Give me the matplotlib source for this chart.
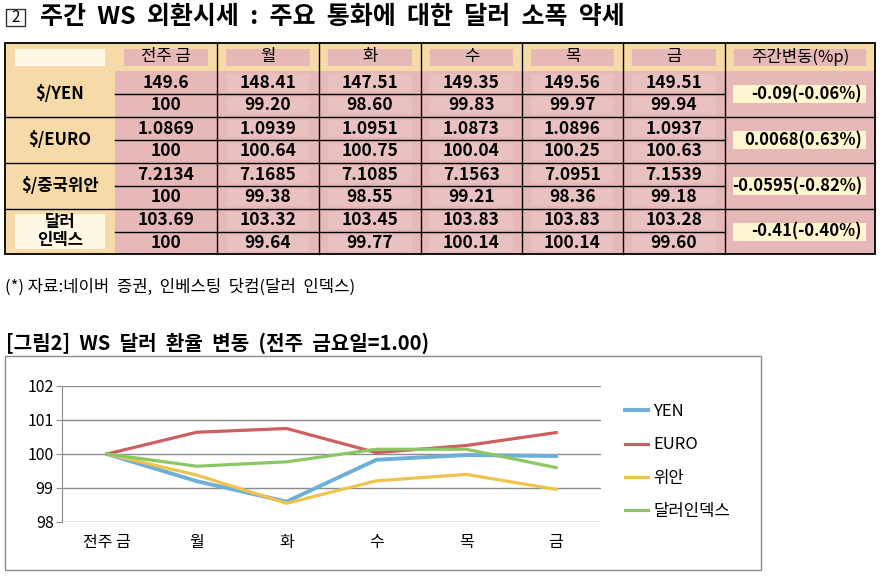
import numpy as np
import matplotlib.pyplot as plt
from matplotlib.patches import Rectangle

plt.rcParams['font.family'] = ['Noto Sans CJK KR', 'DejaVu Sans']

# TABLE DATA
days = ['전주 금', '월', '화', '수', '목', '금']
change_head = '주간변동(%p)'
row_labels = ['$/YEN', '$/EURO', '$/중국위안', '달러\n인덱스']

yen_rate = ['149.6', '148.41', '147.51', '149.35', '149.56', '149.51']
yen_idx = ['100', '99.20', '98.60', '99.83', '99.97', '99.94']
euro_rate = ['1.0869', '1.0939', '1.0951', '1.0873', '1.0896', '1.0937']
euro_idx = ['100', '100.64', '100.75', '100.04', '100.25', '100.63']
yuan_rate = ['7.2134', '7.1685', '7.1085', '7.1563', '7.0951', '7.1539']
yuan_idx = ['100', '99.38', '98.55', '99.21', '98.36', '99.18']
dxy_rate = ['103.69', '103.32', '103.45', '103.83', '103.83', '103.28']
dxy_idx = ['100', '99.64', '99.77', '100.14', '100.14', '99.60']
weekly_change = ['-0.09(-0.06%)', '0.0068(0.63%)', '-0.0595(-0.82%)', '-0.41(-0.40%)']

# CHART DATA (as plotted)
chart_days = ['전주 금', '월', '화', '수', '목', '금']
yen = [100, 99.20, 98.60, 99.83, 99.97, 99.94]
euro = [100, 100.64, 100.75, 100.04, 100.25, 100.63]
yuan = [100, 99.38, 98.55, 99.21, 99.40, 98.96]
dxy = [100, 99.64, 99.77, 100.14, 100.14, 99.60]
series_names = ['YEN', 'EURO', '위안', '달러인덱스']
series_colors = ['#6DAFD6', '#CD5F5E', '#F0C24E', '#8CC765']
series_widths = [2.8, 2.3, 2.3, 2.3]

W, H = 884, 581
TAN = '#F6DBA8'
PINK = '#E6B8B7'
PINK_LIGHT = '#E9C1C0'
CREAM = '#FFF8E4'
CREAM_Y = '#FFF6D0'

fig = plt.figure(figsize=(W / 100, H / 100), dpi=100)
bg = fig.add_axes([0, 0, 1, 1])
bg.set_xlim(0, W)
bg.set_ylim(H, 0)
bg.axis('off')

# title
bg.add_patch(Rectangle((6, 9), 19, 17, fill=False, ec='#333333', lw=1))
bg.text(15.5, 17.5, '2', ha='center', va='center', fontsize=11)
bg.text(40, 17, '주간  WS  외환시세  :  주요  통화에  대한  달러  소폭  약세',
        ha='left', va='center', fontsize=18, fontweight='bold')

# table layout
col_x = [115, 217, 319, 421, 522, 623, 725, 875]
row_y = [71, 117, 163, 209, 254]
left, top = 5, 43

bg.add_patch(Rectangle((left, top), col_x[-1] - left, row_y[0] - top, fc=TAN, ec='none'))
bg.add_patch(Rectangle((left, top), col_x[0] - left, row_y[-1] - top, fc=TAN, ec='none'))
bg.add_patch(Rectangle((col_x[0], row_y[0]), col_x[-1] - col_x[0], row_y[-1] - row_y[0], fc=PINK, ec='none'))

# header
bg.add_patch(Rectangle((15, 49), 90, 17, fc=CREAM, ec='none'))
heads = days + [change_head]
for j, h in enumerate(heads):
    x0, x1 = col_x[j], col_x[j + 1]
    bg.add_patch(Rectangle((x0 + 9, 49), x1 - x0 - 18, 17, fc=PINK, ec='none'))
    bg.text((x0 + x1) / 2, 57, h, ha='center', va='center', fontsize=12)

rates = [yen_rate, euro_rate, yuan_rate, dxy_rate]
idxs = [yen_idx, euro_idx, yuan_idx, dxy_idx]
for i in range(4):
    y0, y1 = row_y[i], row_y[i + 1]
    ym = (y0 + y1) / 2
    if i == 3:
        bg.add_patch(Rectangle((15, y0 + 5), 90, 35, fc=CREAM, ec='none'))
        bg.text(60, ym, row_labels[i], ha='center', va='center', fontsize=12,
                fontweight='bold', linespacing=1.0)
    else:
        bg.text(60, ym, row_labels[i], ha='center', va='center', fontsize=12,
                fontweight='bold')
    for j in range(6):
        x0, x1 = col_x[j], col_x[j + 1]
        if j > 0:
            bg.add_patch(Rectangle((x0 + 9, y0 + 3), x1 - x0 - 18, ym - y0 - 6, fc=PINK_LIGHT, ec='none'))
            bg.add_patch(Rectangle((x0 + 9, ym + 3), x1 - x0 - 18, y1 - ym - 6, fc=PINK_LIGHT, ec='none'))
        bg.text((x0 + x1) / 2, (y0 + ym) / 2, rates[i][j], ha='center', va='center',
                fontsize=12.5, fontweight='bold')
        bg.text((x0 + x1) / 2, (ym + y1) / 2, idxs[i][j], ha='center', va='center',
                fontsize=12.5, fontweight='bold')
    bg.add_patch(Rectangle((733, ym - 9), 133, 18, fc=CREAM_Y, ec='none'))
    bg.text(862, ym, weekly_change[i], ha='right', va='center', fontsize=12,
            fontweight='bold')
    # lines
    bg.plot([col_x[0], col_x[6]], [ym, ym], color='black', lw=1)
    if i > 0:
        bg.plot([left, col_x[-1]], [y0, y0], color='black', lw=1)

for x in col_x[1:-1]:
    bg.plot([x, x], [top, row_y[-1]], color='black', lw=1)
bg.add_patch(Rectangle((left, top), col_x[-1] - left, row_y[-1] - top, fill=False, ec='black', lw=1.3))

# note & chart caption
bg.text(5, 287, '(*) 자료:네이버  증권,  인베스팅  닷컴(달러  인덱스)', ha='left', va='center', fontsize=12)
bg.text(6, 343, '[그림2]  WS  달러  환율  변동  (전주  금요일=1.00)', ha='left', va='center',
        fontsize=14.5, fontweight='bold')

# chart frame
bg.add_patch(Rectangle((5, 356), 756, 214, fc='white', ec='#8C8C8C', lw=1))

# line chart
ax = fig.add_axes([62 / W, (H - 522) / H, (601 - 62) / W, (522 - 386) / H])
ax.set_facecolor('none')
x = np.arange(len(chart_days))
for vals, name, c, lw in zip([yen, euro, yuan, dxy], series_names, series_colors, series_widths):
    ax.plot(x, vals, color=c, lw=lw, label=name)
ax.set_xlim(-0.5, 5.5)
ax.set_ylim(98, 102)
ax.set_yticks([98, 99, 100, 101, 102])
ax.set_xticks(x)
ax.set_xticklabels(chart_days)
ax.grid(axis='y', color='#8C8C8C', lw=1)
ax.set_axisbelow(True)
for s in ['top', 'right', 'bottom']:
    ax.spines[s].set_visible(False)
ax.spines['left'].set_color('#8C8C8C')
ax.tick_params(axis='y', length=4, color='#8C8C8C', labelsize=11.5, pad=2)
ax.tick_params(axis='x', length=0, labelsize=11.5, pad=9)

fig.legend(loc='upper left', bbox_to_anchor=(610 / W, 1 - 388 / H), frameon=False,
           fontsize=12, handlelength=1.4, handletextpad=0.3, labelspacing=0.98)

fig.savefig('out.png', dpi=100)
